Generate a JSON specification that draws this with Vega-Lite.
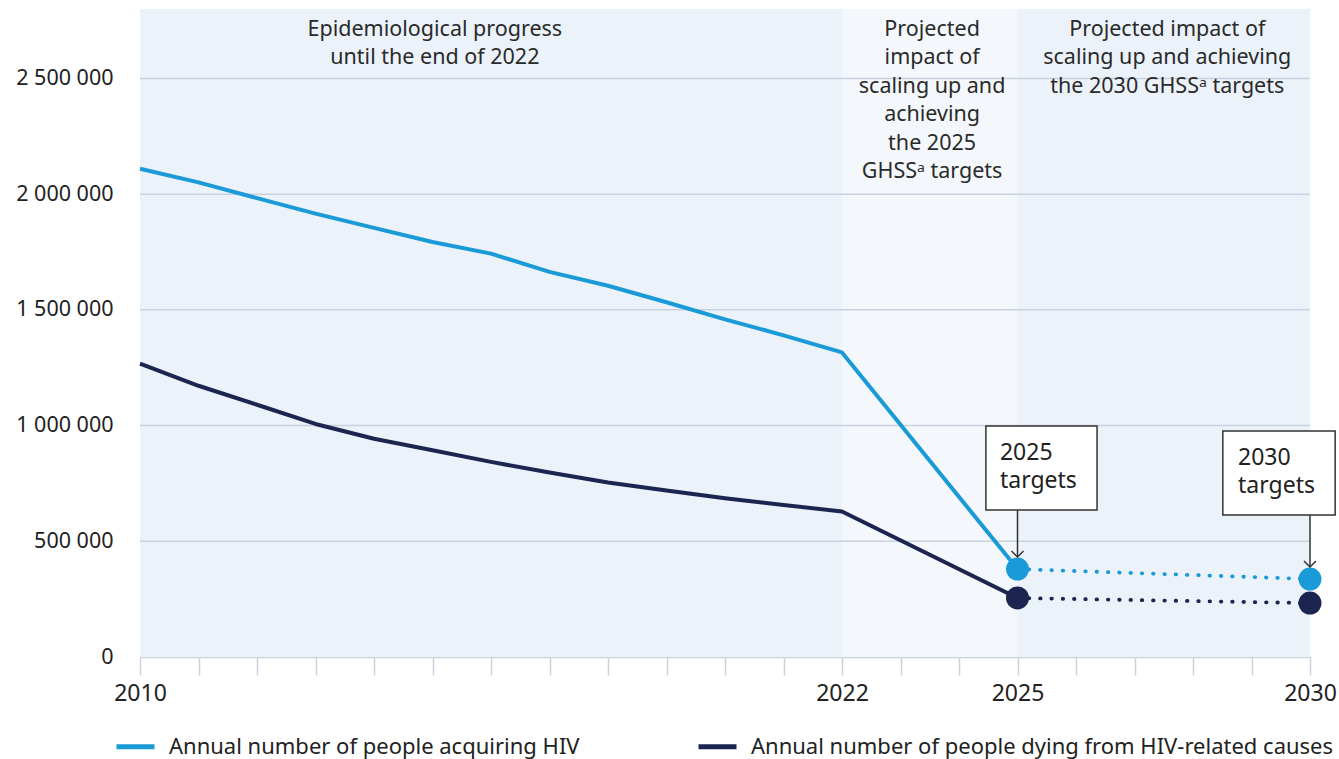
{
  "$schema": "https://vega.github.io/schema/vega-lite/v6.json",
  "width": 1170,
  "height": 648,
  "autosize": "none",
  "padding": {"left": 140, "top": 9, "right": 29, "bottom": 102},
  "background": "#ffffff",
  "config": {
    "view": {"stroke": null},
    "font": "Noto Sans",
    "locale": {"number": {"decimal": ".", "thousands": " ", "grouping": [3], "currency": ["", ""]}}
  },
  "datasets": {
    "regions": [
      {"start": 2010, "end": 2022, "top": 2800000, "bottom": 0, "region": "progress"},
      {"start": 2022, "end": 2025, "top": 2800000, "bottom": 0, "region": "to2025"},
      {"start": 2025, "end": 2030, "top": 2800000, "bottom": 0, "region": "to2030"}
    ],
    "grid": [{"v": 500000}, {"v": 1000000}, {"v": 1500000}, {"v": 2000000}, {"v": 2500000}],
    "regionText": [
      {"x": 2015.04, "y": 2709000, "text": "Epidemiological progress\nuntil the end of 2022"},
      {"x": 2023.54, "y": 2709000, "text": "Projected\nimpact of\nscaling up and\nachieving\nthe 2025\nGHSSᵃ targets"},
      {"x": 2027.56, "y": 2709000, "text": "Projected impact of\nscaling up and achieving\nthe 2030 GHSSᵃ targets"}
    ],
    "hist": [
      {"year": 2010, "value": 2110000, "series": "Annual number of people acquiring HIV"},
      {"year": 2011, "value": 2051000, "series": "Annual number of people acquiring HIV"},
      {"year": 2012, "value": 1983000, "series": "Annual number of people acquiring HIV"},
      {"year": 2013, "value": 1916000, "series": "Annual number of people acquiring HIV"},
      {"year": 2014, "value": 1854000, "series": "Annual number of people acquiring HIV"},
      {"year": 2015, "value": 1793000, "series": "Annual number of people acquiring HIV"},
      {"year": 2016, "value": 1743000, "series": "Annual number of people acquiring HIV"},
      {"year": 2017, "value": 1664000, "series": "Annual number of people acquiring HIV"},
      {"year": 2018, "value": 1604000, "series": "Annual number of people acquiring HIV"},
      {"year": 2019, "value": 1533000, "series": "Annual number of people acquiring HIV"},
      {"year": 2020, "value": 1459000, "series": "Annual number of people acquiring HIV"},
      {"year": 2021, "value": 1390000, "series": "Annual number of people acquiring HIV"},
      {"year": 2022, "value": 1316000, "series": "Annual number of people acquiring HIV"},
      {"year": 2025, "value": 380000, "series": "Annual number of people acquiring HIV"},
      {"year": 2010, "value": 1268000, "series": "Annual number of people dying from HIV-related causes"},
      {"year": 2011, "value": 1172000, "series": "Annual number of people dying from HIV-related causes"},
      {"year": 2012, "value": 1090000, "series": "Annual number of people dying from HIV-related causes"},
      {"year": 2013, "value": 1007000, "series": "Annual number of people dying from HIV-related causes"},
      {"year": 2014, "value": 943000, "series": "Annual number of people dying from HIV-related causes"},
      {"year": 2015, "value": 893000, "series": "Annual number of people dying from HIV-related causes"},
      {"year": 2016, "value": 843000, "series": "Annual number of people dying from HIV-related causes"},
      {"year": 2017, "value": 797000, "series": "Annual number of people dying from HIV-related causes"},
      {"year": 2018, "value": 754000, "series": "Annual number of people dying from HIV-related causes"},
      {"year": 2019, "value": 719000, "series": "Annual number of people dying from HIV-related causes"},
      {"year": 2020, "value": 686000, "series": "Annual number of people dying from HIV-related causes"},
      {"year": 2021, "value": 657000, "series": "Annual number of people dying from HIV-related causes"},
      {"year": 2022, "value": 629000, "series": "Annual number of people dying from HIV-related causes"},
      {"year": 2025, "value": 255000, "series": "Annual number of people dying from HIV-related causes"}
    ],
    "targets": [
      {"year": 2025, "value": 380000, "series": "Annual number of people acquiring HIV"},
      {"year": 2030, "value": 337000, "series": "Annual number of people acquiring HIV"},
      {"year": 2025, "value": 255000, "series": "Annual number of people dying from HIV-related causes"},
      {"year": 2030, "value": 233000, "series": "Annual number of people dying from HIV-related causes"}
    ],
    "boxes": [
      {"x": 2024.46, "x2": 2026.36, "y": 635000, "y2": 998000, "text": "2025\ntargets", "tx": 2024.70, "ty": 881500, "ax": 2025, "atop": 635000, "abot": 432000},
      {"x": 2028.51, "x2": 2030.43, "y": 613600, "y2": 976500, "text": "2030\ntargets", "tx": 2028.77, "ty": 860000, "ax": 2030, "atop": 613600, "abot": 389000}
    ]
  },
  "layer": [
    {
      "data": {"name": "regions"},
      "mark": {"type": "rect"},
      "encoding": {
        "x": {"field": "start", "type": "quantitative", "scale": {"domain": [2010, 2030], "nice": false, "zero": false}, "title": null},
        "x2": {"field": "end"},
        "y": {"field": "bottom", "type": "quantitative", "scale": {"domain": [0, 2800000], "nice": false}, "title": null},
        "y2": {"field": "top"},
        "fill": {"field": "region", "type": "nominal", "scale": {"domain": ["progress", "to2025", "to2030"], "range": ["#ebf2fa", "#f4f8fd", "#ecf2fa"]}, "legend": null}
      }
    },
    {
      "data": {"name": "grid"},
      "mark": {"type": "rule", "color": "#c9d1df", "strokeWidth": 1.5},
      "encoding": {
        "y": {"field": "v", "type": "quantitative", "title": null}
      }
    },
    {
      "data": {"name": "regionText"},
      "mark": {"type": "text", "align": "center", "baseline": "middle", "lineBreak": "\n", "lineHeight": 28.4, "fontSize": 21.5, "color": "#2a2a2a"},
      "encoding": {
        "x": {"field": "x", "type": "quantitative", "title": null},
        "y": {"field": "y", "type": "quantitative", "title": null},
        "text": {"field": "text", "type": "nominal"}
      }
    },
    {
      "data": {"name": "hist"},
      "mark": {"type": "line", "strokeWidth": 4, "strokeJoin": "round"},
      "encoding": {
        "x": {
          "field": "year", "type": "quantitative",
          "axis": {
            "title": null,
            "values": [2010, 2011, 2012, 2013, 2014, 2015, 2016, 2017, 2018, 2019, 2020, 2021, 2022, 2023, 2024, 2025, 2026, 2027, 2028, 2029, 2030],
            "labelExpr": "indexof([2010, 2022, 2025, 2030], datum.value) >= 0 ? '' + datum.value : ''",
            "grid": false,
            "domainColor": "#c9d1df",
            "domainWidth": 1.5,
            "tickColor": "#c9d1df",
            "tickWidth": 1.5,
            "tickSize": 18,
            "labelPadding": 7,
            "labelFontSize": 23,
            "labelColor": "#222222",
            "labelFont": "Noto Sans",
            "labelFlush": false,
            "labelOverlap": false
          }
        },
        "y": {
          "field": "value", "type": "quantitative",
          "axis": {
            "title": null,
            "values": [0, 500000, 1000000, 1500000, 2000000, 2500000],
            "format": ",d",
            "grid": false,
            "domain": false,
            "ticks": false,
            "tickSize": 0,
            "labelPadding": 27,
            "labelFontSize": 21.5,
            "labelColor": "#222222",
            "labelFont": "Noto Sans"
          }
        },
        "color": {
          "field": "series", "type": "nominal",
          "scale": {"domain": ["Annual number of people acquiring HIV", "Annual number of people dying from HIV-related causes"], "range": ["#1a9ad6", "#1c2550"]},
          "legend": {
            "title": null,
            "orient": "none",
            "legendX": -26,
            "legendY": 716,
            "direction": "horizontal",
            "symbolType": "stroke",
            "symbolStrokeWidth": 5,
            "symbolSize": 1444,
            "labelFontSize": 22,
            "labelFont": "Noto Sans",
            "labelColor": "#222222",
            "labelOffset": 12,
            "labelLimit": 600,
            "columnPadding": 108
          }
        }
      }
    },
    {
      "data": {"name": "targets"},
      "mark": {"type": "line", "strokeWidth": 3.8, "strokeCap": "round", "strokeDash": [0.5, 10.8]},
      "encoding": {
        "x": {"field": "year", "type": "quantitative", "title": null},
        "y": {"field": "value", "type": "quantitative", "title": null},
        "color": {"field": "series", "type": "nominal"}
      }
    },
    {
      "data": {"name": "targets"},
      "mark": {"type": "point", "filled": true, "opacity": 1, "size": 529},
      "encoding": {
        "x": {"field": "year", "type": "quantitative", "title": null},
        "y": {"field": "value", "type": "quantitative", "title": null},
        "color": {"field": "series", "type": "nominal"}
      }
    },
    {
      "data": {"name": "boxes"},
      "mark": {"type": "rect", "fill": "#ffffff", "stroke": "#333333", "strokeWidth": 1.5},
      "encoding": {
        "x": {"field": "x", "type": "quantitative", "title": null},
        "x2": {"field": "x2"},
        "y": {"field": "y", "type": "quantitative", "title": null},
        "y2": {"field": "y2"}
      }
    },
    {
      "data": {"name": "boxes"},
      "mark": {"type": "text", "align": "left", "baseline": "middle", "lineBreak": "\n", "lineHeight": 28, "fontSize": 23, "color": "#222222"},
      "encoding": {
        "x": {"field": "tx", "type": "quantitative", "title": null},
        "y": {"field": "ty", "type": "quantitative", "title": null},
        "text": {"field": "text", "type": "nominal"}
      }
    },
    {
      "data": {"name": "boxes"},
      "mark": {"type": "rule", "color": "#333333", "strokeWidth": 1.5},
      "encoding": {
        "x": {"field": "ax", "type": "quantitative", "title": null},
        "y": {"field": "atop", "type": "quantitative", "title": null},
        "y2": {"field": "abot"}
      }
    },
    {
      "data": {"name": "boxes"},
      "mark": {"type": "point", "shape": "M-1,-1L0,0L1,-1", "filled": false, "stroke": "#333333", "strokeWidth": 1.5, "size": 144, "opacity": 1},
      "encoding": {
        "x": {"field": "ax", "type": "quantitative", "title": null},
        "y": {"field": "abot", "type": "quantitative", "title": null}
      }
    }
  ]
}
